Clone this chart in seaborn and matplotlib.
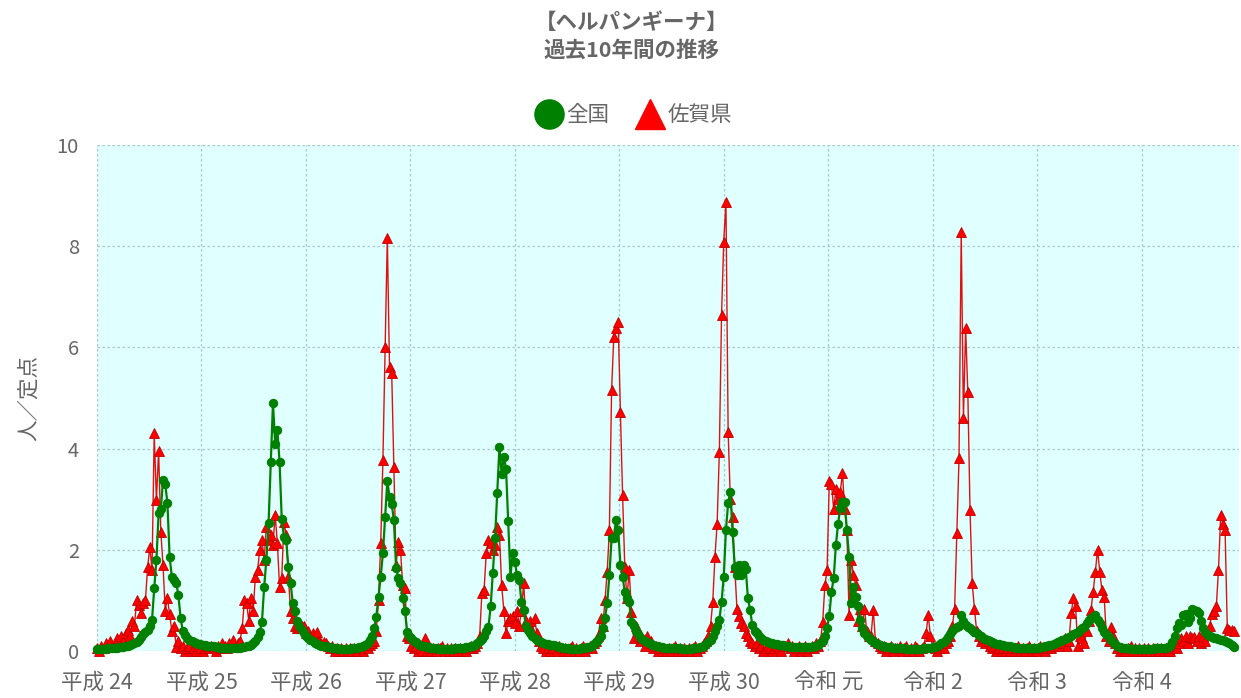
import matplotlib
matplotlib.use('Agg')
import matplotlib.pyplot as plt
from matplotlib.lines import Line2D
import numpy as np
import pandas as pd
import seaborn as sns

# weekly values (人/定点), one list per season block of 52 weeks
zenkoku_h24 = [0.04,0.04,0.04,0.04,0.04,0.05,0.05,0.05,0.06,0.06,
               0.07,0.07,0.08,0.09,0.10,0.11,0.13,0.15,0.18,0.22,
               0.27,0.33,0.38,0.42,0.50,0.61,1.24,1.80,2.72,2.80,
               3.38,3.30,2.93,1.86,1.47,1.40,1.35,1.10,0.65,0.40,
               0.32,0.26,0.22,0.19,0.17,0.15,0.14,0.13,0.12,0.11,0.10,0.10]
zenkoku_h25 = [0.10,0.09,0.08,0.07,0.06,0.06,0.05,0.05,0.05,0.05,
               0.05,0.05,0.06,0.06,0.07,0.08,0.09,0.10,0.12,0.15,
               0.20,0.28,0.38,0.58,1.27,1.80,2.53,3.74,4.90,4.10,
               4.37,3.74,2.60,2.26,2.20,1.66,1.35,0.95,0.80,0.60,
               0.50,0.42,0.36,0.30,0.26,0.22,0.19,0.16,0.14,0.12,0.10,0.09]
zenkoku_h26 = [0.09,0.08,0.07,0.06,0.05,0.05,0.04,0.04,0.04,0.04,
               0.04,0.04,0.05,0.05,0.06,0.07,0.08,0.10,0.12,0.16,
               0.22,0.30,0.45,0.68,1.07,1.47,1.93,2.65,3.35,3.05,
               2.90,2.59,1.64,1.44,1.34,1.05,0.80,0.38,0.30,0.25,
               0.20,0.17,0.14,0.12,0.10,0.09,0.08,0.07,0.06,0.05,0.05,0.04]
zenkoku_h27 = [0.04,0.04,0.04,0.04,0.04,0.04,0.04,0.05,0.05,0.05,
               0.05,0.06,0.07,0.08,0.09,0.10,0.12,0.15,0.19,0.24,
               0.30,0.40,0.48,0.88,1.54,2.23,3.12,4.04,3.50,3.84,
               3.60,2.56,1.47,1.93,1.76,1.50,1.40,0.97,0.81,0.50,
               0.42,0.35,0.30,0.26,0.22,0.19,0.17,0.15,0.14,0.13,0.12,0.12]
zenkoku_h28 = [0.12,0.10,0.08,0.07,0.06,0.05,0.05,0.04,0.04,0.04,
               0.04,0.04,0.05,0.05,0.06,0.07,0.08,0.10,0.13,0.17,
               0.22,0.30,0.45,0.66,0.94,1.50,2.23,2.23,2.59,2.40,
               1.70,1.47,1.17,1.05,0.97,0.58,0.50,0.40,0.33,0.28,
               0.24,0.20,0.17,0.15,0.13,0.11,0.10,0.09,0.08,0.07,0.06,0.05]
zenkoku_h29 = [0.06,0.06,0.05,0.05,0.05,0.05,0.04,0.04,0.04,0.04,
               0.04,0.05,0.05,0.06,0.07,0.08,0.10,0.13,0.17,0.22,
               0.30,0.40,0.50,0.61,0.97,1.47,2.39,2.92,3.15,2.36,
               1.67,1.50,1.70,1.50,1.70,1.63,1.04,0.81,0.51,0.40,
               0.35,0.30,0.25,0.22,0.20,0.18,0.16,0.15,0.14,0.13,0.12,0.12]
zenkoku_h30 = [0.11,0.10,0.09,0.08,0.08,0.07,0.07,0.07,0.07,0.07,
               0.07,0.07,0.08,0.08,0.09,0.10,0.12,0.15,0.20,0.30,
               0.45,0.70,1.17,1.44,2.09,2.52,2.82,2.95,2.95,2.39,
               1.86,0.94,1.27,1.07,0.88,0.61,0.45,0.35,0.30,0.25,
               0.22,0.19,0.16,0.13,0.11,0.10,0.09,0.08,0.07,0.07,0.06,0.06]
zenkoku_r1 = [0.06,0.05,0.05,0.05,0.04,0.04,0.04,0.04,0.04,0.04,
              0.04,0.04,0.05,0.05,0.05,0.06,0.07,0.08,0.10,0.12,
              0.15,0.18,0.22,0.27,0.33,0.40,0.45,0.48,0.50,0.71,
              0.60,0.52,0.48,0.45,0.42,0.38,0.35,0.32,0.29,0.26,
              0.24,0.22,0.20,0.18,0.16,0.14,0.13,0.12,0.11,0.10,0.09,0.09]
zenkoku_r2 = [0.08,0.07,0.06,0.06,0.05,0.05,0.05,0.05,0.05,0.05,
              0.05,0.06,0.06,0.07,0.08,0.09,0.10,0.11,0.12,0.14,
              0.16,0.18,0.20,0.22,0.24,0.26,0.28,0.30,0.33,0.35,
              0.38,0.42,0.45,0.48,0.55,0.61,0.65,0.68,0.71,0.62,
              0.55,0.45,0.38,0.33,0.28,0.22,0.18,0.14,0.10,0.08,0.06,0.05]
zenkoku_r3 = [0.05,0.05,0.04,0.04,0.04,0.04,0.04,0.04,0.04,0.04,
              0.04,0.04,0.04,0.05,0.05,0.05,0.05,0.06,0.06,0.07,
              0.10,0.18,0.30,0.45,0.55,0.51,0.71,0.74,0.58,0.65,
              0.84,0.81,0.80,0.75,0.60,0.45,0.38,0.32,0.30,0.28,
              0.26,0.25,0.24,0.22,0.22,0.20,0.17,0.15,0.12,0.08]

saga_h24 = [0.05,0.00,0.10,0.05,0.15,0.10,0.20,0.10,0.15,0.26,
            0.15,0.30,0.20,0.35,0.41,0.30,0.60,0.50,1.00,0.90,
            0.75,0.95,1.00,1.66,2.06,1.60,4.30,2.98,3.96,2.36,
            1.70,0.80,1.05,0.73,0.40,0.50,0.08,0.20,0.05,0.10,
            0.00,0.05,0.10,0.00,0.05,0.00,0.10,0.05,0.00,0.05,0.10,0.05]
saga_h25 = [0.10,0.05,0.00,0.10,0.05,0.15,0.10,0.05,0.15,0.10,
            0.22,0.10,0.15,0.20,0.45,1.00,0.95,0.60,1.05,0.80,
            1.47,1.60,2.00,2.20,1.80,2.46,2.20,2.30,2.10,2.69,
            2.13,1.27,1.45,2.55,2.30,1.47,0.80,0.65,0.50,0.45,
            0.45,0.50,0.50,0.35,0.40,0.30,0.35,0.25,0.38,0.20,0.15,0.18]
saga_h26 = [0.15,0.10,0.05,0.10,0.00,0.05,0.00,0.05,0.00,0.05,
            0.00,0.05,0.00,0.05,0.00,0.05,0.05,0.00,0.10,0.05,
            0.12,0.15,0.20,0.40,1.00,2.13,3.77,6.01,8.16,5.62,
            5.50,3.64,1.70,2.16,2.00,1.30,1.25,0.30,0.25,0.10,
            0.05,0.10,0.00,0.05,0.00,0.26,0.00,0.05,0.00,0.05,0.00,0.05]
saga_h27 = [0.05,0.10,0.00,0.05,0.00,0.05,0.00,0.05,0.00,0.05,
            0.00,0.05,0.00,0.05,0.10,0.05,0.10,0.15,0.30,1.14,
            1.20,1.93,2.20,2.13,2.00,2.10,2.46,2.30,1.30,0.80,
            0.35,0.60,0.65,0.70,0.55,0.80,0.50,0.80,1.34,0.60,
            0.50,0.60,0.40,0.65,0.35,0.20,0.10,0.05,0.00,0.05,0.00,0.05]
saga_h28 = [0.05,0.00,0.10,0.05,0.00,0.05,0.00,0.05,0.10,0.00,
            0.05,0.00,0.05,0.10,0.00,0.05,0.10,0.05,0.15,0.20,
            0.30,0.65,0.50,1.00,1.57,2.39,5.16,6.21,6.38,6.51,
            4.73,3.08,1.67,1.04,1.60,0.78,0.26,0.50,0.30,0.20,
            0.25,0.10,0.30,0.15,0.20,0.05,0.10,0.00,0.05,0.00,0.05,0.00]
saga_h29 = [0.05,0.00,0.05,0.10,0.00,0.05,0.00,0.05,0.00,0.05,
            0.00,0.05,0.10,0.00,0.05,0.10,0.15,0.20,0.30,0.50,
            0.97,1.86,2.52,3.94,6.64,8.09,8.88,4.33,3.00,2.65,
            1.67,0.84,0.70,0.55,0.50,0.35,0.30,0.20,0.15,0.10,
            0.15,0.05,0.10,0.00,0.05,0.10,0.05,0.00,0.05,0.10,0.05,0.00]
saga_h30 = [0.10,0.10,0.15,0.05,0.10,0.00,0.05,0.10,0.00,0.05,
            0.10,0.00,0.05,0.10,0.05,0.15,0.10,0.20,0.58,1.30,
            1.60,3.35,3.30,2.80,3.20,3.00,3.15,3.51,2.80,2.39,
            0.71,1.80,1.50,1.30,0.60,0.84,0.50,0.84,0.40,0.30,
            0.30,0.81,0.20,0.15,0.10,0.05,0.10,0.00,0.05,0.10,0.00,0.05]
saga_r1 = [0.05,0.10,0.00,0.05,0.10,0.00,0.05,0.00,0.10,0.05,
           0.00,0.05,0.10,0.35,0.71,0.30,0.10,0.05,0.00,0.05,
           0.10,0.05,0.15,0.20,0.30,0.50,0.84,2.33,3.81,8.29,
           4.60,6.38,5.12,2.79,1.34,0.84,0.40,0.30,0.20,0.25,
           0.15,0.20,0.10,0.05,0.10,0.00,0.05,0.00,0.05,0.00,0.05,0.00]
saga_r2 = [0.05,0.00,0.05,0.10,0.00,0.05,0.00,0.05,0.10,0.00,
           0.05,0.00,0.05,0.10,0.05,0.00,0.05,0.10,0.05,0.10,
           0.15,0.10,0.20,0.15,0.25,0.10,0.20,0.75,1.04,0.88,
           0.10,0.30,0.25,0.15,0.40,0.60,0.81,1.17,1.57,2.00,
           1.57,1.20,1.07,0.30,0.20,0.48,0.30,0.15,0.05,0.00,0.05,0.00]
saga_r3 = [0.00,0.05,0.10,0.00,0.05,0.00,0.05,0.00,0.05,0.00,
           0.05,0.00,0.05,0.00,0.05,0.00,0.05,0.00,0.05,0.00,
           0.00,0.05,0.10,0.05,0.15,0.25,0.20,0.30,0.15,0.30,
           0.25,0.28,0.20,0.30,0.15,0.30,0.20,0.40,0.50,0.74,
           0.80,0.88,1.60,2.69,2.52,2.39,0.45,0.42,0.42,0.40]

year_labels = ['平成 24', '平成 25', '平成 26', '平成 27', '平成 28', '平成 29',
               '平成 30', '令和 元', '令和 2', '令和 3', '令和 4']

zenkoku = np.concatenate([zenkoku_h24, zenkoku_h25, zenkoku_h26, zenkoku_h27, zenkoku_h28,
                          zenkoku_h29, zenkoku_h30, zenkoku_r1, zenkoku_r2, zenkoku_r3])
saga = np.concatenate([saga_h24, saga_h25, saga_h26, saga_h27, saga_h28,
                       saga_h29, saga_h30, saga_r1, saga_r2, saga_r3])
df = pd.DataFrame({'week': np.arange(len(zenkoku)), 'zenkoku': zenkoku, 'saga': saga})

sns.set_theme(style='white')
plt.rcParams['font.family'] = ['Noto Sans CJK JP', 'DejaVu Sans']
grey = '#666666'
gridc = '#a9c6cc'

fig = plt.figure(figsize=(12.41, 6.98), dpi=100)
ax = fig.add_axes([0.0782, 0.0673, 0.9205, 0.725])
ax.set_facecolor('#e0ffff')

# Saga first so the national line sits on top
sns.lineplot(data=df, x='week', y='saga', ax=ax, color='#e01010', linewidth=1.0,
             marker='^', markersize=6.5, markerfacecolor='red', markeredgecolor='#c00000',
             markeredgewidth=0.6, sort=False, errorbar=None, clip_on=False)
sns.lineplot(data=df, x='week', y='zenkoku', ax=ax, color='green', linewidth=1.6,
             marker='o', markersize=6, markerfacecolor='green', markeredgecolor='green',
             sort=False, errorbar=None, clip_on=False)

ax.set_xlim(0, 519.5)
ax.set_ylim(0, 10)
ax.set_yticks([0, 2, 4, 6, 8, 10])
ax.set_xticks(np.arange(len(year_labels)) * 47.5)
ax.set_xticklabels(year_labels)
ax.grid(True, color=gridc, linestyle=(0, (2, 2)), linewidth=0.9)
for s in ax.spines.values():
    s.set_visible(False)
ax.tick_params(axis='x', length=12, color=gridc, labelsize=15.5, labelcolor=grey, pad=3)
ax.tick_params(axis='y', length=9, color=gridc, labelsize=14.5, labelcolor=grey, pad=4)
ax.set_xlabel('')
ax.set_ylabel('人／定点', fontsize=15.5, color=grey, labelpad=12)

fig.text(0.509, 0.968, '【ヘルパンギーナ】', ha='center', va='center',
         fontsize=15.5, fontweight='bold', color=grey)
fig.text(0.509, 0.928, '過去10年間の推移', ha='center', va='center',
         fontsize=15.5, fontweight='bold', color=grey)

handles = [Line2D([], [], marker='o', color='green', linestyle='none', markersize=21),
           Line2D([], [], marker='^', color='red', linestyle='none', markersize=21)]
fig.legend(handles, ['全国', '佐賀県'], loc='center', bbox_to_anchor=(0.511, 0.835),
           ncol=2, frameon=False, fontsize=15.5, labelcolor=grey,
           handletextpad=0.2, columnspacing=1.3, handlelength=1.2)

fig.savefig('out.png', dpi=100)
